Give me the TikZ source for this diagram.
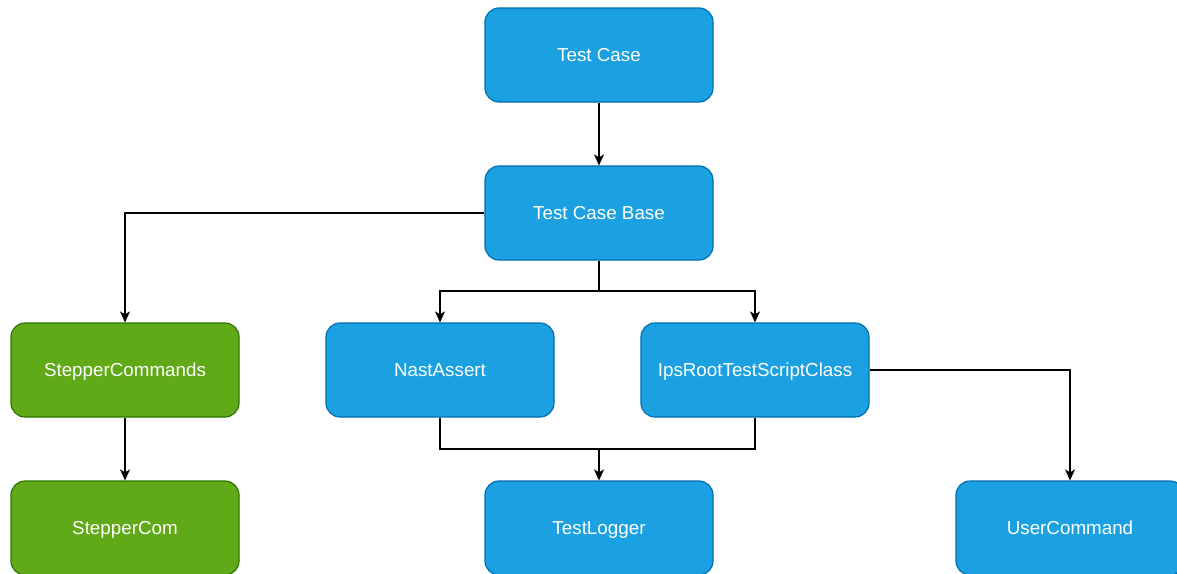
\documentclass[tikz,border=0pt]{standalone}
\usepackage{fontspec}
\setmainfont{Liberation Sans}
\usetikzlibrary{arrows.meta}
\definecolor{bluefill}{HTML}{1BA1E2}
\definecolor{bluedraw}{HTML}{006EAF}
\definecolor{greenfill}{HTML}{60A917}
\definecolor{greendraw}{HTML}{2D7600}
\tikzset{
  box/.style={rounded corners=14pt, minimum width=228pt, minimum height=94pt,
    inner sep=0pt, line width=1.2pt, text=white, text height=13.5pt, text depth=0pt,
    font=\fontsize{18.8pt}{22pt}\selectfont},
  bluebox/.style={box, fill=bluefill, draw=bluedraw},
  greenbox/.style={box, fill=greenfill, draw=greendraw},
  conn/.style={line width=1.3pt, -{Stealth[length=11pt,width=10pt,inset=3pt]}},
}
\begin{document}
\begin{tikzpicture}[x=1pt,y=-1pt]
\useasboundingbox (0,0) rectangle (1177,573);
\node[bluebox] (tc) at (599,55) {Test Case};
\node[bluebox] (tcb) at (599,213) {Test Case Base};
\node[greenbox] (sc) at (125,370) {StepperCommands};
\node[bluebox] (na) at (440,370) {NastAssert};
\node[bluebox] (ips) at (755,370) {IpsRootTestScriptClass};
\node[greenbox] (scom) at (125,528) {StepperCom};
\node[bluebox] (tl) at (599,528) {TestLogger};
\node[bluebox] (uc) at (1070,528) {UserCommand};
\coordinate (j1) at (599,291);
\coordinate (j2) at (599,449);
\draw[conn] (tc) -- (tcb);
\draw[conn] (tcb.west) -| (sc.north);
\draw[conn] (tcb.south) -- (j1) -| (na.north);
\draw[conn] (j1) -| (ips.north);
\draw[conn] (sc) -- (scom);
\draw[conn] (na.south) |- (j2) -- (tl.north);
\draw[line width=1.3pt] (ips.south) |- (j2);
\draw[conn] (ips.east) -| (uc.north);
\end{tikzpicture}
\end{document}
